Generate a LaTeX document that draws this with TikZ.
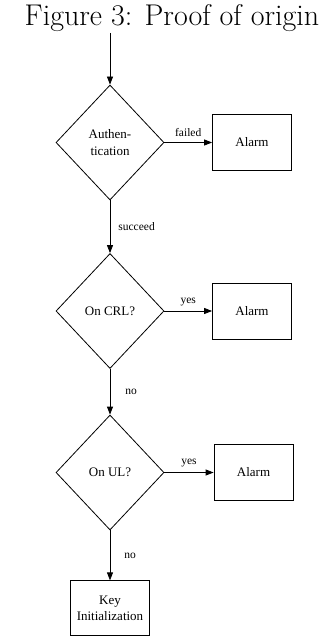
\documentclass[tikz,border=0pt]{standalone}
\usepackage{fontspec}
\newfontfamily\chartfont{Liberation Serif}
\usetikzlibrary{shapes.geometric,arrows.meta}

\begin{document}
\begin{tikzpicture}[x=1pt,y=-1pt,
	decision/.style={diamond, draw, line width=0.8pt, minimum width=108pt, minimum height=115pt, inner sep=0pt, align=center, font=\chartfont\fontsize{13}{16.5}\selectfont},
	outcome/.style={rectangle, draw, line width=0.8pt, minimum width=79pt, minimum height=56pt, inner sep=0pt, align=center, font=\chartfont\fontsize{13}{16.5}\selectfont},
	flow/.style={line width=0.8pt, -{Triangle[length=8pt,width=6pt]}},
	lbl/.style={font=\chartfont\fontsize{11.5}{13}\selectfont, inner sep=0pt}]
	\useasboundingbox (0,0) rectangle (336,639);
	\node[anchor=base, font=\fontsize{30}{36}\selectfont] (caption) at (172,26) {Figure 3: Proof of origin};
	\coordinate (start) at (110,33);
	\node[decision] (auth) at (110,142.5) {Authen-\\tication};
	\node[outcome] (alarmA) at (252,142.5) {Alarm};
	\node[decision] (crl) at (110,311) {On CRL?};
	\node[outcome] (alarmB) at (252,311) {Alarm};
	\node[decision] (ul) at (110,472.5) {On UL?};
	\node[outcome] (alarmC) at (253.5,472.5) {Alarm};
	\node[outcome, minimum height=55pt] (keyinit) at (110,608.3) {Key\\Initialization};
	\draw[flow] (start) -- (auth);
	\draw[flow] (auth) -- node[lbl, above=5pt] {failed} (alarmA);
	\draw[flow] (auth) -- node[lbl, right=8pt] {succeed} (crl);
	\draw[flow] (crl) -- node[lbl, above=5pt] {yes} (alarmB);
	\draw[flow] (crl) -- node[lbl, right=15pt] {no} (ul);
	\draw[flow] (ul) -- node[lbl, above=5pt] {yes} (alarmC);
	\draw[flow] (ul) -- node[lbl, right=14pt] {no} (keyinit);
\end{tikzpicture}
\end{document}
